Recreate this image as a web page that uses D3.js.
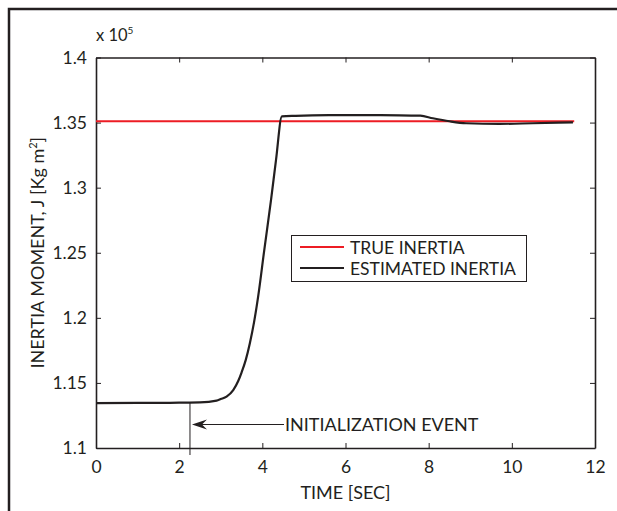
<!DOCTYPE html>
<html><head><meta charset="utf-8">
<script src="https://cdn.jsdelivr.net/npm/d3@7"></script>
<style>body{margin:0;background:#fff}svg{display:block}text{font-family:Lato,"Open Sans",sans-serif;fill:#231f20}</style>
</head><body><svg id="c" width="617" height="511"></svg>
<script>
const xTicks = [0,2,4,6,8,10,12];
const yTicks = [1.1,1.15,1.2,1.25,1.3,1.35,1.4];
const yTickLabels = ["1.1","1.15","1.2","1.25","1.3","1.35","1.4"];
const trueTime = [0, 11.5];
const trueInertia = [1.351, 1.351];
const estTime = [0,1,2,2.5,2.9,3.0,3.14,3.3,3.42,3.5,3.6,3.7,3.8,3.9,4.04,4.21,4.33,4.47,4.8,5.6,6.5,7.3,7.8,8.1,8.5,8.9,9.7,10.5,11.47];
const estInertia = [1.1345,1.1346,1.1348,1.135,1.1364,1.1376,1.1395,1.1445,1.1515,1.158,1.1675,1.1805,1.1965,1.2165,1.2505,1.2908,1.3215,1.3547,1.3552,1.3557,1.3557,1.3556,1.3553,1.3533,1.351,1.3495,1.349,1.3495,1.3502];
const legendLabels = ["TRUE INERTIA","ESTIMATED INERTIA"];
const annotation = "INITIALIZATION EVENT";
const eventTime = 2.26;

const svg = d3.select("#c");
const L=96,R=595,T=57.5,B=448;
const x = d3.scaleLinear().domain([0,12]).range([L,R]);
const y = d3.scaleLinear().domain([1.1,1.4]).range([B,T]);
const ink="#231f20";

// outer frame
svg.append("path").attr("d","M9,517V9H620").attr("fill","none").attr("stroke",ink).attr("stroke-width",2.5);

const g = svg.append("g");
const fmt = d=>yTickLabels[yTicks.indexOf(d)];
const xb = g.append("g").attr("transform",`translate(0,${B})`).call(d3.axisBottom(x).tickValues(xTicks).tickSizeInner(-5).tickSizeOuter(0).tickPadding(10).tickFormat(d3.format("d")));
const xt = g.append("g").attr("transform",`translate(0,${T})`).call(d3.axisTop(x).tickValues(xTicks).tickSizeInner(-5).tickSizeOuter(0).tickFormat(""));
const yl = g.append("g").attr("transform",`translate(${L},0)`).call(d3.axisLeft(y).tickValues(yTicks).tickSizeInner(-5).tickSizeOuter(0).tickPadding(9).tickFormat(fmt));
const yr = g.append("g").attr("transform",`translate(${R},0)`).call(d3.axisRight(y).tickValues(yTicks).tickSizeInner(-5).tickSizeOuter(0).tickFormat(""));
[xb,xt,yl,yr].forEach(a=>{a.select(".domain").attr("stroke",ink).attr("stroke-width",1.6);a.selectAll(".tick line").attr("stroke",ink).attr("stroke-width",1);a.selectAll("text").attr("font-size",17.5).attr("font-family","Lato").attr("fill",ink);});
xb.selectAll("text").attr("dy","0.85em");

// exponent
const ex = svg.append("text").attr("x",96).attr("y",41).attr("font-size",16.5);
ex.append("tspan").text("x 10");
ex.append("tspan").attr("dy",-7).attr("font-size",10).text("5");

// axis titles
svg.append("text").attr("x",(L+R)/2).attr("y",499).attr("text-anchor","middle").attr("font-size",18).text("TIME [SEC]");
const yt = svg.append("text").attr("transform",`translate(44,${(T+B)/2}) rotate(-90)`).attr("text-anchor","middle").attr("font-size",18);
yt.append("tspan").text("INERTIA MOMENT, J [Kg m");
yt.append("tspan").attr("dy",-7).attr("font-size",11).text("2");
yt.append("tspan").attr("dy",7).text("]");

// lines
const line = d3.line().x(d=>x(d[0])).y(d=>y(d[1]));
svg.append("path").datum(trueTime.map((t,i)=>[t,trueInertia[i]])).attr("d",line).attr("fill","none").attr("stroke","#ed1c24").attr("stroke-width",2);
svg.append("path").datum(estTime.map((t,i)=>[t,estInertia[i]])).attr("d",d3.line().x(d=>x(d[0])).y(d=>y(d[1])).curve(d3.curveMonotoneX)).attr("fill","none").attr("stroke",ink).attr("stroke-width",2.2);

// annotation
const ey = y(1.1348);
svg.append("line").attr("x1",x(eventTime)).attr("x2",x(eventTime)).attr("y1",ey).attr("y2",B+7).attr("stroke",ink).attr("stroke-width",1);
const ay = 424.5, ax0 = x(eventTime)+2;
svg.append("line").attr("x1",ax0+6).attr("x2",284).attr("y1",ay).attr("y2",ay).attr("stroke",ink).attr("stroke-width",1);
svg.append("path").attr("d",`M${ax0},${ay}L${ax0+15},${ay-5}L${ax0+10},${ay}L${ax0+15},${ay+5}Z`).attr("fill",ink);
svg.append("text").attr("x",285).attr("y",ay+6.5).attr("font-size",18).text(annotation);

// legend
svg.append("rect").attr("x",291.5).attr("y",235.5).attr("width",235).attr("height",46).attr("fill","#fff").attr("stroke",ink).attr("stroke-width",1);
const lc = ["#ed1c24",ink];
legendLabels.forEach((s,i)=>{
  const yy = 247 + i*21;
  svg.append("line").attr("x1",300).attr("x2",344).attr("y1",yy).attr("y2",yy).attr("stroke",lc[i]).attr("stroke-width",2);
  svg.append("text").attr("x",350).attr("y",yy+6.5).attr("font-size",17.5).text(s);
});
</script></body></html>
